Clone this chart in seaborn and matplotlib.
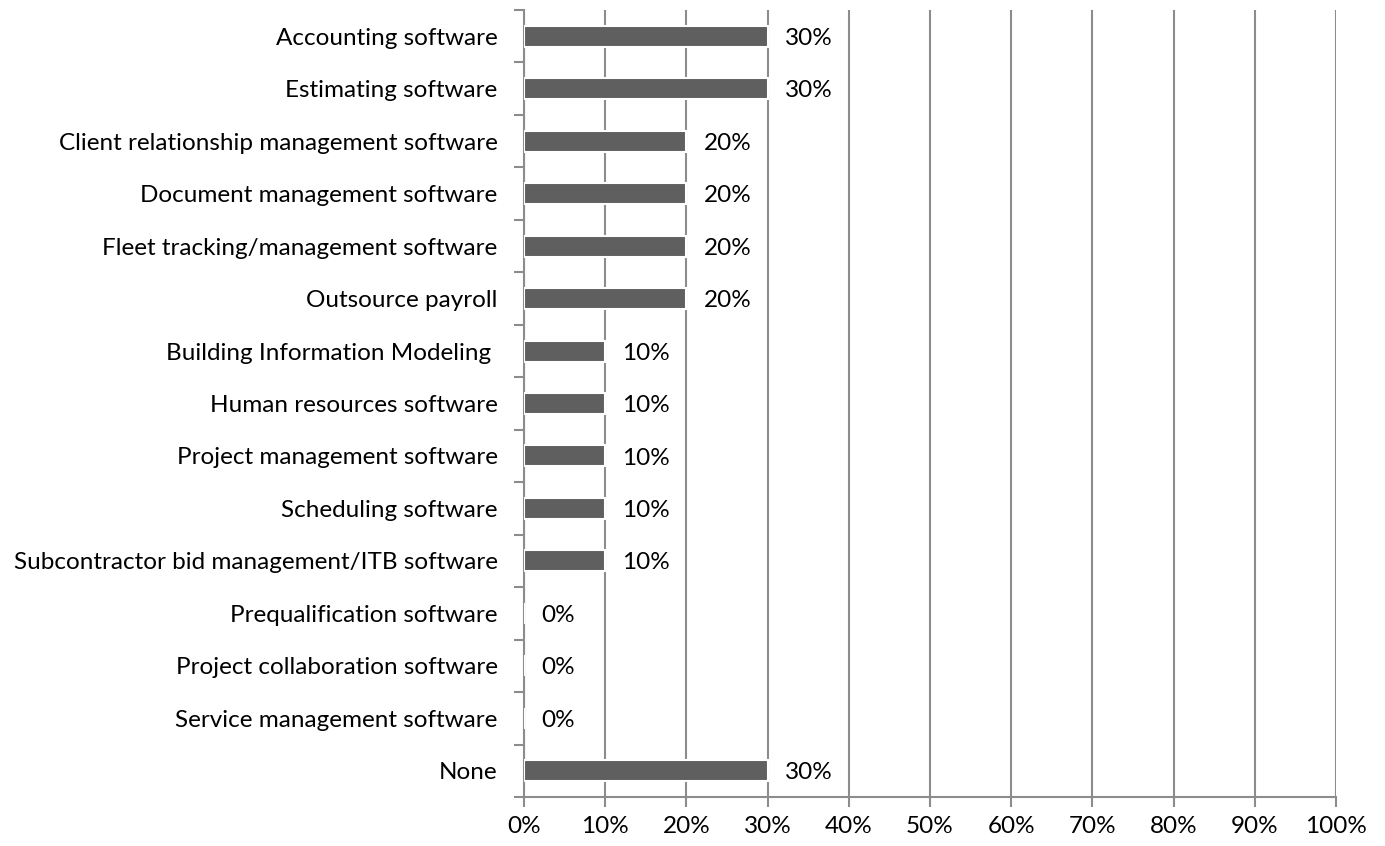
import matplotlib
matplotlib.use("Agg")
import matplotlib.pyplot as plt
import seaborn as sns
import pandas as pd
from matplotlib.ticker import FuncFormatter, MultipleLocator, FixedLocator

categories = [
    'Accounting software',
    'Estimating software',
    'Client relationship management software',
    'Document management software',
    'Fleet tracking/management software',
    'Outsource payroll',
    'Building Information Modeling ',
    'Human resources software',
    'Project management software',
    'Scheduling software',
    'Subcontractor bid management/ITB software',
    'Prequalification software',
    'Project collaboration software',
    'Service management software',
    'None',
]
shares = [0.30, 0.30, 0.20, 0.20, 0.20, 0.20, 0.10, 0.10, 0.10, 0.10, 0.10, 0.0, 0.0, 0.0, 0.30]

df = pd.DataFrame({'category': categories, 'share': shares})

sns.set_theme(style='white')
plt.rcParams['font.family'] = ['Lato', 'DejaVu Sans']

fig = plt.figure(figsize=(13.85, 8.46), dpi=100)
ax = fig.add_axes([524 / 1385, 1 - 797 / 846, (1336 - 524) / 1385, (797 - 10) / 846])

sns.barplot(data=df, x='share', y='category', color='#5f5f5f', width=0.4,
            edgecolor='white', linewidth=1.5, saturation=1, ax=ax, zorder=3)

ax.set_xlim(0, 1)
ax.set_ylim(len(categories) - 0.5, -0.5)
ax.xaxis.set_major_locator(MultipleLocator(0.1))
ax.xaxis.set_major_formatter(FuncFormatter(lambda v, p: f'{v * 100:.0f}%'))
ax.grid(axis='x', color='#8c8c8c', linewidth=1.5, zorder=0)
ax.set_axisbelow(True)

fs = 17.5
ax.yaxis.set_major_locator(FixedLocator(range(len(categories))))
ax.set_yticklabels(categories)
ax.yaxis.set_minor_locator(FixedLocator([i - 0.5 for i in range(len(categories) + 1)]))
ax.tick_params(axis='y', which='major', length=0, pad=19, labelsize=fs, colors='black')
ax.tick_params(axis='y', which='minor', length=7, width=1.5, color='#8c8c8c', left=True)
ax.tick_params(axis='x', which='major', length=7, width=1.5, color='#8c8c8c', bottom=True,
               pad=7, labelsize=fs, labelcolor='black')

for side in ['top', 'right']:
    ax.spines[side].set_visible(False)
for side in ['left', 'bottom']:
    ax.spines[side].set_color('#8c8c8c')
    ax.spines[side].set_linewidth(1.5)

ax.set_xlabel('')
ax.set_ylabel('')

for i, v in enumerate(shares):
    ax.text(v + 0.021, i + 0.04, f'{v * 100:.0f}%', va='center', ha='left', fontsize=fs, color='black')

fig.savefig('out.png', dpi=100)
